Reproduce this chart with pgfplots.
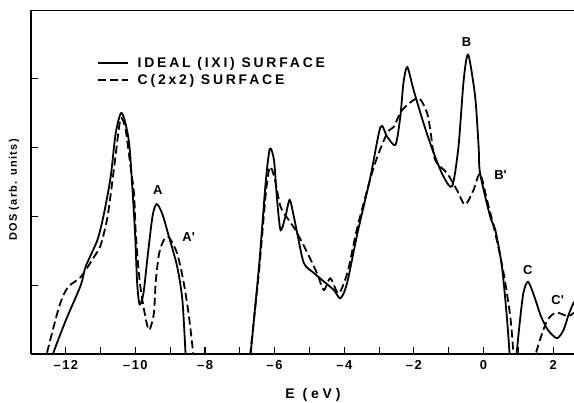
\documentclass[border=0pt]{standalone}
\usepackage{pgfplots}
\pgfplotsset{compat=1.18}
\usepackage{fontspec}
\setmainfont{Liberation Sans}
\newfontfamily\lbl{Liberation Sans Bold}[LetterSpace=14]
\newfontfamily\leg{Liberation Sans Bold}[LetterSpace=20]
\newfontfamily\tck{Liberation Sans Bold}[LetterSpace=10]
\newfontfamily\xlab{Liberation Sans Bold}[LetterSpace=28]
\newfontfamily\lblb{Liberation Sans Bold}[LetterSpace=12]
\newcommand{\mn}{\textendash\kern1.5bp}
\begin{document}
\begin{tikzpicture}[x=1bp,y=1bp]
\useasboundingbox (0,0) rectangle (574,402);
\begin{axis}[
  at={(31bp,48bp)}, anchor=south west,
  scale only axis, width=543bp, height=344bp,
  xmin=-13, xmax=2.6, ymin=0, ymax=5,
  axis x line*=bottom, axis y line*=left,
  axis line style={line width=1.3bp},
  tick align=inside,
  xtick={-12,-10,-8,-6,-4,-2,0,2},
  xticklabels={\mn12,\mn10,\mn8,\mn6,\mn4,\mn2,0,2},
  minor xtick={-11,-9,-7,-5,-3,-1,1},
  ytick={1,2,3,4}, yticklabels={},
  major tick length=7bp, minor tick length=7bp,
  tick style={line width=1.1bp, black},
  x tick label style={font=\tck\fontsize{13}{15}\selectfont, yshift=-3bp},
  legend cell align=left,
  legend style={at={(rel axis cs:0.121,0.87)}, anchor=north west, draw=none, fill=none,
    font=\leg\fontsize{14}{16}\selectfont, row sep=2bp, inner sep=0pt,
    nodes={inner xsep=9bp}},
  legend image code/.code={\draw[#1] (0bp,0bp) -- (30bp,0bp);},
  every axis plot/.append style={line width=1.8bp, black, smooth, tension=0.45},
]
% ideal (1x1) surface
\addplot[solid] coordinates {
(-12.45,-0.15)(-12.37,0)(-12.0,0.49)(-11.57,1.0)(-11.43,1.27)(-11.09,1.66)(-10.9,2.05)(-10.71,2.58)(-10.57,3.2)(-10.42,3.5)
(-10.31,3.4)(-10.18,3.06)(-10.09,2.43)(-10.01,1.75)(-9.95,1.03)(-9.88,0.72)(-9.77,0.88)(-9.66,1.37)(-9.51,2.0)(-9.39,2.18)
(-9.23,2.04)(-9.04,1.71)(-8.8,1.27)(-8.65,0.78)(-8.56,0)(-8.54,-0.2)
};
\addlegendentry{IDEAL (IXI) SURFACE}
% c(2x2) surface
\addplot[dash pattern=on 8bp off 4bp] coordinates {
(-12.62,-0.15)(-12.55,0)(-12.19,0.69)(-11.94,0.97)(-11.57,1.12)(-11.19,1.41)(-11.0,1.58)(-10.8,2.0)(-10.61,2.72)(-10.47,3.3)(-10.40,3.43)
(-10.28,3.26)(-10.14,2.72)(-10.04,2.33)(-9.99,1.75)(-9.9,1.17)(-9.8,0.78)(-9.62,0.35)(-9.47,0.59)(-9.42,1.03)(-9.32,1.46)(-9.18,1.66)(-9.04,1.70)
(-8.8,1.46)(-8.61,1.03)(-8.46,0.54)(-8.34,0)(-8.32,-0.2)
};
\addlegendentry{C(2x2) SURFACE}
% ideal, middle band
\addplot[solid, forget plot] coordinates {
(-6.71,-0.2)(-6.69,0)(-6.45,1.27)(-6.26,2.48)(-6.14,2.98)(-6.02,2.82)(-5.93,2.24)(-5.83,1.8)(-5.69,2.0)(-5.57,2.24)
(-5.45,2.0)(-5.35,1.75)(-5.16,1.32)(-4.88,1.18)(-4.6,1.06)(-4.3,0.93)(-4.11,0.81)(-3.92,1.03)(-3.62,1.76)(-3.25,2.57)(-2.96,3.3)
(-2.77,3.16)(-2.53,3.04)(-2.39,3.45)(-2.3,3.94)(-2.19,4.17)(-2.01,3.84)(-1.72,3.35)(-1.43,2.92)(-1.15,2.58)(-0.9,2.44)
(-0.72,3.01)(-0.57,3.98)(-0.44,4.35)(-0.24,3.74)(-0.14,3.01)(-0.1,2.63)(0.19,2.0)(0.34,1.8)(0.53,1.27)(0.67,0.54)(0.75,0)(0.77,-0.2)
};
% c(2x2), middle band
\addplot[forget plot, dash pattern=on 8bp off 4bp] coordinates {
(-6.72,-0.2)(-6.70,0)(-6.45,1.2)(-6.26,2.3)(-6.14,2.72)(-6.0,2.55)(-5.83,2.14)(-5.6,1.95)(-5.4,1.8)(-5.06,1.47)(-4.78,1.17)(-4.59,0.93)
(-4.4,1.1)(-4.16,0.88)(-3.9,1.2)(-3.62,1.85)(-3.15,2.72)(-2.77,3.21)(-2.58,3.3)(-2.33,3.55)(-1.87,3.72)(-1.62,3.5)(-1.53,3.26)(-1.39,2.82)
(-1.05,2.63)(-0.76,2.38)(-0.53,2.17)(-0.29,2.38)(-0.1,2.62)(0.1,2.24)(0.34,1.75)(0.58,1.17)(0.77,0.54)(0.86,0)(0.88,-0.2)
};
% ideal, right
\addplot[solid, forget plot] coordinates {
(0.92,-0.2)(0.95,0)(1.05,0.5)(1.15,0.9)(1.28,1.05)(1.45,0.85)(1.65,0.55)(1.85,0.35)(2.11,0.23)(2.3,0.35)(2.45,0.58)(2.6,0.76)
};
% c(2x2), right
\addplot[forget plot, dash pattern=on 8bp off 4bp] coordinates {
(1.45,-0.15)(1.5,0)(1.65,0.25)(1.83,0.49)(2.0,0.58)(2.14,0.6)(2.3,0.57)(2.45,0.55)(2.6,0.6)
};
\draw[line width=1.3bp] (rel axis cs:0,1) -- (rel axis cs:1,1);
\begin{scope}[every node/.style={font=\lbl\fontsize{13}{15}\selectfont}]
\node at (axis cs:-9.36,2.38) {A};
\node at (axis cs:-8.47,1.70) {A\textquotesingle};
\node at (axis cs:-0.49,4.54) {B};
\node at (axis cs:0.49,2.6) {B\textquotesingle};
\node at (axis cs:1.27,1.22) {C};
\node at (axis cs:2.13,0.78) {C\textquotesingle};
\end{scope}
\end{axis}
\node[font=\xlab\fontsize{14}{16}\selectfont] at (313,7) {E (eV)};
\node[font=\lblb\fontsize{11}{13}\selectfont, rotate=90] at (14,212) {DOS (arb. units)};
\end{tikzpicture}
\end{document}
